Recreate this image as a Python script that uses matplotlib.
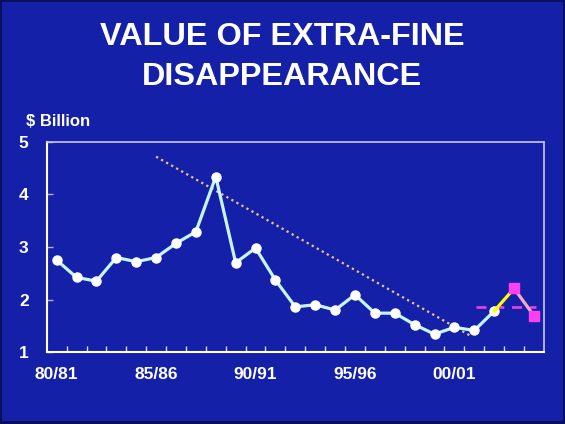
import matplotlib.pyplot as plt

plt.rcParams['font.family'] = ['Liberation Sans', 'DejaVu Sans']

BG = '#1520a8'

seasons = ['80/81', '81/82', '82/83', '83/84', '84/85', '85/86', '86/87', '87/88',
           '88/89', '89/90', '90/91', '91/92', '92/93', '93/94', '94/95', '95/96',
           '96/97', '97/98', '98/99', '99/00', '00/01', '01/02', '02/03', '03/04',
           '04/05']
value = [2.75, 2.42, 2.35, 2.80, 2.72, 2.80, 3.07, 3.29, 4.34, 2.70, 2.98, 2.37,
         1.86, 1.90, 1.80, 2.09, 1.74, 1.74, 1.52, 1.34, 1.47, 1.41, 1.78, 2.21,
         1.69]
shown_labels = ['80/81', '85/86', '90/91', '95/96', '00/01']

# trend line endpoints (season index, value)
trend_x = [5, 20.8]
trend_y = [4.72, 1.31]
# recent-years average
avg_x = [21.1, 24.1]
avg_y = [1.86, 1.86]

fig = plt.figure(figsize=(5.65, 4.24), dpi=100)
fig.patch.set_facecolor('#0a0f5a')
frame = fig.add_axes([0.004, 0.007, 0.992, 0.988])
frame.set_facecolor(BG)
frame.set_xticks([])
frame.set_yticks([])
for s in frame.spines.values():
    s.set_visible(False)

fig.text(0.5, 0.866, 'VALUE OF EXTRA-FINE\nDISAPPEARANCE', ha='center', va='center',
         color='white', fontsize=23.3, fontweight='bold', linespacing=1.45)
fig.text(0.046, 0.713, '$ Billion', ha='left', va='center', color='white',
         fontsize=12, fontweight='bold')

ax = fig.add_axes([0.0827, 0.1698, 0.880, 0.4953])
ax.set_facecolor(BG)
x = list(range(len(seasons)))

ax.plot(trend_x, trend_y, color='#f0c890', linestyle=(0, (1, 1.6)), lw=1.6, zorder=2)

# historical series up to 02/03
ax.plot(x[:23], value[:23], color='#c8f4ff', lw=2.3, marker='o', markersize=6.5,
        markerfacecolor='white', markeredgecolor='white', zorder=3)
# projections
ax.plot(x[22:24], value[22:24], color='#ffff00', lw=2.3, zorder=3)
ax.plot(x[23:25], value[23:25], color='#f4a8c8', lw=2.3, zorder=3)
ax.plot(x[23:25], value[23:25], linestyle='none', marker='s', markersize=6.5,
        color='#ff40f0', zorder=4)
ax.plot(avg_x, avg_y, color='#e040e0', lw=2, dashes=(3.6, 2.8), zorder=2)

ax.set_xlim(-0.5, len(seasons) - 0.5)
ax.set_ylim(1, 5)

ax.set_xticks([seasons.index(s) for s in shown_labels])
ax.set_xticklabels(shown_labels)
ax.set_xticks([i + 0.5 for i in range(len(seasons) - 1)], minor=True)
ax.tick_params(axis='x', which='major', length=0, pad=11, colors='white',
               labelsize=12.5)
ax.tick_params(axis='x', which='minor', direction='in', length=4.5, width=1,
               color='#d8d8f0')
ax.set_yticks([1, 2, 3, 4, 5])
ax.tick_params(axis='y', which='major', direction='in', length=4, width=1,
               colors='white', labelsize=12.5, pad=13)
ax.tick_params(axis='y', which='major', color='#b0b0d8')
for lbl in ax.get_xticklabels() + ax.get_yticklabels():
    lbl.set_fontweight('bold')

ax.spines['left'].set_color('white')
ax.spines['bottom'].set_color('white')
ax.spines['left'].set_linewidth(1.5)
ax.spines['bottom'].set_linewidth(1.5)
ax.spines['top'].set_color('#c8c8e0')
ax.spines['right'].set_color('#c8c8e0')
ax.spines['top'].set_linewidth(1.2)
ax.spines['right'].set_linewidth(1.2)

plt.savefig('out.png', dpi=100, facecolor=fig.get_facecolor())
